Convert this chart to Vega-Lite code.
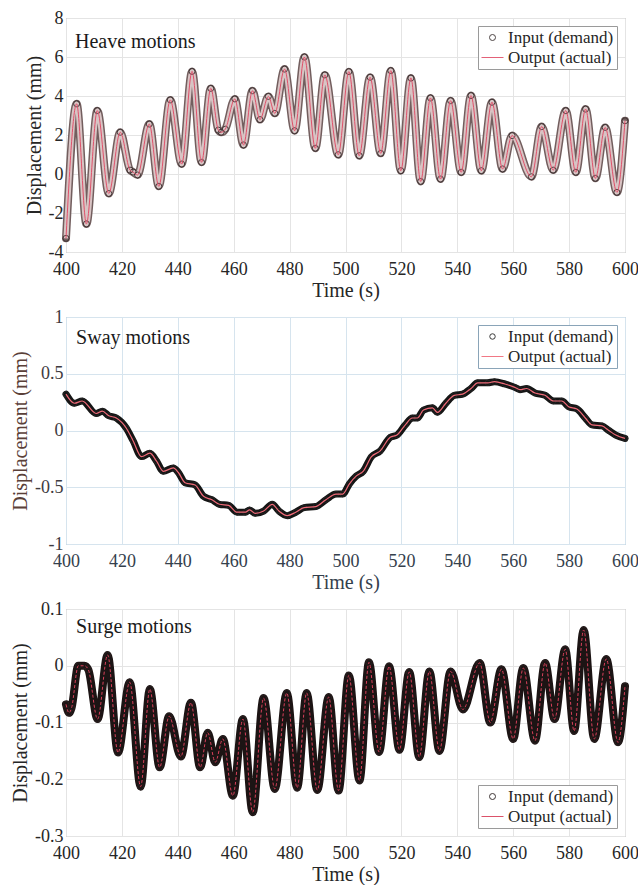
{
  "$schema": "https://vega.github.io/schema/vega-lite/v6.json",
  "padding": {"top": 8, "left": 10, "right": 5, "bottom": 0},
  "spacing": 6,
  "background": "white",
  "datasets": {
    "heave": [
      {"t": 400, "v": -3.3}, {"t": 403.8, "v": 3.6}, {"t": 407.3, "v": -2.56}, {"t": 411.2, "v": 3.25},
      {"t": 415.3, "v": -1.0}, {"t": 419.4, "v": 2.14}, {"t": 422.9, "v": 0.2}, {"t": 424, "v": 0.1},
      {"t": 425.6, "v": -0.05}, {"t": 429.8, "v": 2.56}, {"t": 433.2, "v": -0.63}, {"t": 437.3, "v": 3.8},
      {"t": 441.4, "v": 0.51}, {"t": 445.1, "v": 5.26}, {"t": 448.5, "v": 0.6}, {"t": 451.8, "v": 4.39},
      {"t": 454.5, "v": 2.25}, {"t": 455.5, "v": 2.14}, {"t": 457, "v": 2.3}, {"t": 460.4, "v": 3.85},
      {"t": 463.5, "v": 1.49}, {"t": 466.7, "v": 4.27}, {"t": 469.4, "v": 2.79}, {"t": 472.4, "v": 3.98},
      {"t": 474.7, "v": 3.11}, {"t": 478.2, "v": 5.38}, {"t": 481.8, "v": 2.22}, {"t": 485.3, "v": 6.0},
      {"t": 489.2, "v": 1.32}, {"t": 492.6, "v": 5.08}, {"t": 497.4, "v": 0.99}, {"t": 501.2, "v": 5.25},
      {"t": 504.9, "v": 0.94}, {"t": 508.8, "v": 4.96}, {"t": 512.6, "v": 1.06}, {"t": 516.2, "v": 5.3},
      {"t": 519.8, "v": 0.17}, {"t": 523.4, "v": 4.92}, {"t": 526.9, "v": -0.38}, {"t": 530.4, "v": 3.9},
      {"t": 534.0, "v": -0.26}, {"t": 537.6, "v": 3.76}, {"t": 541.4, "v": 0.09}, {"t": 544.9, "v": 4.02},
      {"t": 548.6, "v": 0.17}, {"t": 552.4, "v": 3.68}, {"t": 556.2, "v": 0.26}, {"t": 559.6, "v": 1.97},
      {"t": 566.5, "v": -0.14}, {"t": 570.2, "v": 2.43}, {"t": 574.3, "v": 0.2}, {"t": 578.8, "v": 3.25},
      {"t": 582.4, "v": 0.09}, {"t": 585.9, "v": 3.33}, {"t": 589.4, "v": -0.22}, {"t": 592.9, "v": 2.39},
      {"t": 597.1, "v": -0.94}, {"t": 600, "v": 2.73}
    ],
    "sway": [
      {"t": 400, "v": 0.32}, {"t": 403, "v": 0.24}, {"t": 405.8, "v": 0.26}, {"t": 410.8, "v": 0.15},
      {"t": 413, "v": 0.17}, {"t": 415.3, "v": 0.13}, {"t": 418, "v": 0.11}, {"t": 421.6, "v": 0.02},
      {"t": 424, "v": -0.09}, {"t": 427, "v": -0.23}, {"t": 430, "v": -0.2}, {"t": 432.4, "v": -0.27},
      {"t": 434.8, "v": -0.36}, {"t": 438.4, "v": -0.33}, {"t": 440.2, "v": -0.37}, {"t": 442.6, "v": -0.46},
      {"t": 446.2, "v": -0.48}, {"t": 449.2, "v": -0.58}, {"t": 452.2, "v": -0.61}, {"t": 454.9, "v": -0.65},
      {"t": 458.2, "v": -0.66}, {"t": 461.2, "v": -0.72}, {"t": 464.2, "v": -0.72}, {"t": 465.7, "v": -0.7},
      {"t": 467.7, "v": -0.73}, {"t": 470.7, "v": -0.71}, {"t": 473.8, "v": -0.65}, {"t": 476.2, "v": -0.71},
      {"t": 479.2, "v": -0.75}, {"t": 482.2, "v": -0.72}, {"t": 485.2, "v": -0.68}, {"t": 489.4, "v": -0.67},
      {"t": 493, "v": -0.61}, {"t": 496.6, "v": -0.56}, {"t": 499, "v": -0.56}, {"t": 501.4, "v": -0.47},
      {"t": 503.9, "v": -0.4}, {"t": 506.3, "v": -0.36}, {"t": 509.3, "v": -0.23}, {"t": 512.4, "v": -0.18},
      {"t": 516, "v": -0.06}, {"t": 518.4, "v": -0.04}, {"t": 521.4, "v": 0.05}, {"t": 523.9, "v": 0.11},
      {"t": 525.7, "v": 0.11}, {"t": 527.9, "v": 0.18}, {"t": 531.1, "v": 0.2}, {"t": 532.9, "v": 0.16},
      {"t": 535.9, "v": 0.24}, {"t": 538.9, "v": 0.31}, {"t": 541.9, "v": 0.32}, {"t": 544.9, "v": 0.37},
      {"t": 547.3, "v": 0.42}, {"t": 550.9, "v": 0.42}, {"t": 553.3, "v": 0.43}, {"t": 557, "v": 0.41},
      {"t": 560.6, "v": 0.38}, {"t": 562.4, "v": 0.36}, {"t": 564.8, "v": 0.37}, {"t": 567.8, "v": 0.33},
      {"t": 571.4, "v": 0.31}, {"t": 574.4, "v": 0.26}, {"t": 577.4, "v": 0.26}, {"t": 579.8, "v": 0.21},
      {"t": 582.8, "v": 0.19}, {"t": 585.8, "v": 0.11}, {"t": 588.2, "v": 0.05}, {"t": 591.8, "v": 0.04},
      {"t": 594.2, "v": 0.0}, {"t": 596.7, "v": -0.04}, {"t": 600, "v": -0.07}
    ],
    "surge": [
      {"t": 400, "v": -0.068}, {"t": 401.1, "v": -0.083}, {"t": 402, "v": -0.074}, {"t": 404.4, "v": 0.0},
      {"t": 406.6, "v": 0.0}, {"t": 408, "v": -0.007}, {"t": 411.3, "v": -0.094}, {"t": 414.9, "v": 0.019},
      {"t": 418.6, "v": -0.153}, {"t": 422.8, "v": -0.029}, {"t": 426.7, "v": -0.213}, {"t": 430, "v": -0.041},
      {"t": 433.5, "v": -0.179}, {"t": 436.9, "v": -0.089}, {"t": 441.1, "v": -0.16}, {"t": 444.7, "v": -0.065},
      {"t": 448, "v": -0.179}, {"t": 450.7, "v": -0.118}, {"t": 453.4, "v": -0.17}, {"t": 456.1, "v": -0.129},
      {"t": 459.7, "v": -0.229}, {"t": 463.3, "v": -0.094}, {"t": 466.8, "v": -0.258}, {"t": 470.7, "v": -0.057},
      {"t": 474.7, "v": -0.217}, {"t": 479, "v": -0.048}, {"t": 482.7, "v": -0.215}, {"t": 486.1, "v": -0.048},
      {"t": 489.9, "v": -0.219}, {"t": 494, "v": -0.055}, {"t": 497.5, "v": -0.22}, {"t": 501.2, "v": -0.017},
      {"t": 505, "v": -0.202}, {"t": 508.4, "v": 0.006}, {"t": 512, "v": -0.152}, {"t": 515.6, "v": -0.001},
      {"t": 519.3, "v": -0.148}, {"t": 522.8, "v": -0.011}, {"t": 526.4, "v": -0.161}, {"t": 530, "v": -0.01},
      {"t": 533.6, "v": -0.15}, {"t": 537.6, "v": -0.01}, {"t": 542, "v": -0.077}, {"t": 548, "v": 0.005},
      {"t": 551.8, "v": -0.1}, {"t": 555.8, "v": -0.006}, {"t": 560, "v": -0.129}, {"t": 563.6, "v": -0.004},
      {"t": 567.8, "v": -0.132}, {"t": 571.4, "v": 0.005}, {"t": 574.8, "v": -0.094}, {"t": 578.6, "v": 0.029},
      {"t": 581.8, "v": -0.115}, {"t": 585.2, "v": 0.063}, {"t": 589, "v": -0.129}, {"t": 593.3, "v": 0.012},
      {"t": 597.5, "v": -0.135}, {"t": 600, "v": -0.036}
    ]
  },
  "vconcat": [
    {"hconcat": [{
      "width": 559, "height": 234,
      "data": {"name": "heave"},
      "layer": [
        {"mark": {"type": "line", "interpolate": "monotone", "strokeWidth": 8, "color": "#725e5e", "strokeJoin": "round", "strokeCap": "round"},
         "encoding": {
           "x": {"field": "t", "type": "quantitative", "scale": {"domain": [400, 600], "nice": false}, "axis": {"title": "Time (s)", "values": [400, 420, 440, 460, 480, 500, 520, 540, 560, 580, 600], "tickCount": 11, "labelExpr": "'' + datum.value", "labelOverlap": false, "labelFlush": false, "labelPadding": 8, "titlePadding": 2}},
           "y": {"field": "v", "type": "quantitative", "scale": {"domain": [-4, 8], "nice": false}, "axis": {"title": "Displacement (mm)", "values": [-4, -2, 0, 2, 4, 6, 8], "tickCount": 7, "labelExpr": "'' + datum.value", "labelOverlap": false, "labelBound": false, "labelFlush": false}}
         }},
        {"mark": {"type": "line", "interpolate": "monotone", "strokeWidth": 5, "color": "#d8c4c4"},
         "encoding": {"x": {"field": "t", "type": "quantitative"}, "y": {"field": "v", "type": "quantitative"}}},
        {"mark": {"type": "point", "filled": false, "strokeWidth": 1, "opacity": 0.9},
         "encoding": {
           "x": {"field": "t", "type": "quantitative"}, "y": {"field": "v", "type": "quantitative"},
           "color": {"datum": "Input (demand)", "type": "nominal", "scale": {"domain": ["Input (demand)", "Output (actual)"], "range": ["#3a3030", "#e0506a"]}, "legend": {"title": null, "orient": "top-right", "offset": 8}},
           "shape": {"datum": "Input (demand)", "type": "nominal", "scale": {"domain": ["Input (demand)", "Output (actual)"], "range": ["circle", "stroke"]}, "legend": {"title": null, "orient": "top-right", "offset": 8}},
           "size": {"datum": "Input (demand)", "type": "nominal", "scale": {"type": "ordinal", "domain": ["Input (demand)", "Output (actual)"], "range": [36, 484]}, "legend": {"title": null, "orient": "top-right", "offset": 8}}
         }},
        {"mark": {"type": "line", "interpolate": "monotone", "strokeWidth": 1},
         "encoding": {"x": {"field": "t", "type": "quantitative"}, "y": {"field": "v", "type": "quantitative"},
           "color": {"datum": "Output (actual)", "type": "nominal"}}},
        {"data": {"values": [{}]},
         "mark": {"type": "text", "align": "left", "baseline": "alphabetic", "fontSize": 20, "color": "#1a1a1a"},
         "encoding": {"x": {"datum": 403.2, "type": "quantitative"}, "y": {"datum": 6.46, "type": "quantitative"}, "text": {"value": "Heave motions"}}}
      ]
    }], "resolve": {"scale": {"color": "independent", "shape": "independent", "size": "independent"}, "legend": {"color": "independent", "shape": "independent", "size": "independent"}}},
    {"hconcat": [{
      "width": 559, "height": 227,
      "data": {"name": "sway"},
      "view": {"stroke": "#8aa4b8"},
      "layer": [
        {"mark": {"type": "line", "interpolate": "monotone", "strokeWidth": 7, "color": "#151515", "strokeJoin": "round", "strokeCap": "round"},
         "encoding": {
           "x": {"field": "t", "type": "quantitative", "scale": {"domain": [400, 600], "nice": false}, "axis": {"title": "Time (s)", "values": [400, 420, 440, 460, 480, 500, 520, 540, 560, 580, 600], "tickCount": 11, "labelExpr": "'' + datum.value", "labelOverlap": false, "labelFlush": false, "labelPadding": 8, "titlePadding": 2, "labelColor": "#34404c", "titleColor": "#34404c", "gridColor": "#d6e4ee"}},
           "y": {"field": "v", "type": "quantitative", "scale": {"domain": [-1, 1], "nice": false}, "axis": {"title": "Displacement (mm)", "values": [-1, -0.5, 0, 0.5, 1], "tickCount": 5, "labelExpr": "'' + datum.value", "labelOverlap": false, "labelFlush": false, "labelColor": "#3e3a40", "titleColor": "#5a4038", "gridColor": "#d6e4ee"}}
         }},
        {"mark": {"type": "point", "filled": false, "strokeWidth": 1, "opacity": 0.9},
         "encoding": {
           "x": {"field": "t", "type": "quantitative"}, "y": {"field": "v", "type": "quantitative"},
           "color": {"datum": "Input (demand)", "type": "nominal", "scale": {"domain": ["Input (demand)", "Output (actual)"], "range": ["#262626", "#f06a78"]}, "legend": {"title": null, "orient": "top-right", "offset": 8, "strokeColor": "#8aa4b8"}},
           "shape": {"datum": "Input (demand)", "type": "nominal", "scale": {"domain": ["Input (demand)", "Output (actual)"], "range": ["circle", "stroke"]}, "legend": {"title": null, "orient": "top-right", "offset": 8, "strokeColor": "#8aa4b8"}},
           "size": {"datum": "Input (demand)", "type": "nominal", "scale": {"type": "ordinal", "domain": ["Input (demand)", "Output (actual)"], "range": [30, 484]}, "legend": {"title": null, "orient": "top-right", "offset": 8, "strokeColor": "#8aa4b8"}}
         }},
        {"mark": {"type": "line", "interpolate": "monotone", "strokeWidth": 1.2},
         "encoding": {"x": {"field": "t", "type": "quantitative"}, "y": {"field": "v", "type": "quantitative"},
           "color": {"datum": "Output (actual)", "type": "nominal"}}},
        {"data": {"values": [{}]},
         "mark": {"type": "text", "align": "left", "baseline": "alphabetic", "fontSize": 20, "color": "#1a1a1a"},
         "encoding": {"x": {"datum": 403.6, "type": "quantitative"}, "y": {"datum": 0.762, "type": "quantitative"}, "text": {"value": "Sway motions"}}}
      ]
    }], "resolve": {"scale": {"color": "independent", "shape": "independent", "size": "independent"}, "legend": {"color": "independent", "shape": "independent", "size": "independent"}}},
    {"hconcat": [{
      "width": 559, "height": 227,
      "data": {"name": "surge"},
      "layer": [
        {"mark": {"type": "line", "interpolate": "monotone", "strokeWidth": 8, "color": "#1c1414", "strokeJoin": "round", "strokeCap": "round"},
         "encoding": {
           "x": {"field": "t", "type": "quantitative", "scale": {"domain": [400, 600], "nice": false}, "axis": {"title": "Time (s)", "values": [400, 420, 440, 460, 480, 500, 520, 540, 560, 580, 600], "tickCount": 11, "labelExpr": "'' + datum.value", "labelOverlap": false, "labelFlush": false, "labelPadding": 8, "titlePadding": 2}},
           "y": {"field": "v", "type": "quantitative", "scale": {"domain": [-0.3, 0.1], "nice": false}, "axis": {"title": "Displacement (mm)", "values": [-0.3, -0.2, -0.1, 0, 0.1], "tickCount": 5, "labelExpr": "'' + datum.value", "labelOverlap": false, "labelFlush": false}}
         }},
        {"mark": {"type": "point", "filled": false, "strokeWidth": 1, "opacity": 0.9},
         "encoding": {
           "x": {"field": "t", "type": "quantitative"}, "y": {"field": "v", "type": "quantitative"},
           "color": {"datum": "Input (demand)", "type": "nominal", "scale": {"domain": ["Input (demand)", "Output (actual)"], "range": ["#2a2020", "#d8405a"]}, "legend": {"title": null, "orient": "bottom-right", "offset": 8}},
           "shape": {"datum": "Input (demand)", "type": "nominal", "scale": {"domain": ["Input (demand)", "Output (actual)"], "range": ["circle", "stroke"]}, "legend": {"title": null, "orient": "bottom-right", "offset": 8}},
           "size": {"datum": "Input (demand)", "type": "nominal", "scale": {"type": "ordinal", "domain": ["Input (demand)", "Output (actual)"], "range": [36, 484]}, "legend": {"title": null, "orient": "bottom-right", "offset": 8}}
         }},
        {"mark": {"type": "line", "interpolate": "monotone", "strokeWidth": 1, "strokeDash": [3, 2]},
         "encoding": {"x": {"field": "t", "type": "quantitative"}, "y": {"field": "v", "type": "quantitative"},
           "color": {"datum": "Output (actual)", "type": "nominal"}}},
        {"data": {"values": [{}]},
         "mark": {"type": "text", "align": "left", "baseline": "alphabetic", "fontSize": 20, "color": "#1a1a1a"},
         "encoding": {"x": {"datum": 403.6, "type": "quantitative"}, "y": {"datum": 0.0577, "type": "quantitative"}, "text": {"value": "Surge motions"}}}
      ]
    }], "resolve": {"scale": {"color": "independent", "shape": "independent", "size": "independent"}, "legend": {"color": "independent", "shape": "independent", "size": "independent"}}}
  ],
  "resolve": {"scale": {"color": "independent", "shape": "independent", "size": "independent"}, "legend": {"color": "independent", "shape": "independent", "size": "independent"}},
  "config": {
    "font": "Liberation Serif, Times New Roman, serif",
    "text": {"font": "Liberation Serif, Times New Roman, serif"},
    "view": {"stroke": "#9a9a9a", "strokeWidth": 1},
    "axis": {
      "labelFont": "Liberation Serif, Times New Roman, serif", "labelFontSize": 18, "labelColor": "#262626",
      "titleFont": "Liberation Serif, Times New Roman, serif", "titleFontSize": 20, "titleFontWeight": "normal", "titleColor": "#262626",
      "gridColor": "#e4e4e4", "domain": false, "tickSize": 0, "labelPadding": 3, "titlePadding": 4, "labelOverlap": false, "labelFlush": false
    },
    "legend": {
      "labelFont": "Liberation Serif, Times New Roman, serif", "labelFontSize": 17, "labelColor": "#262626",
      "strokeColor": "#9a9a9a", "fillColor": "white", "padding": 3, "rowPadding": 0,
      "symbolStrokeWidth": 1, "labelOffset": 4
    }
  }
}
